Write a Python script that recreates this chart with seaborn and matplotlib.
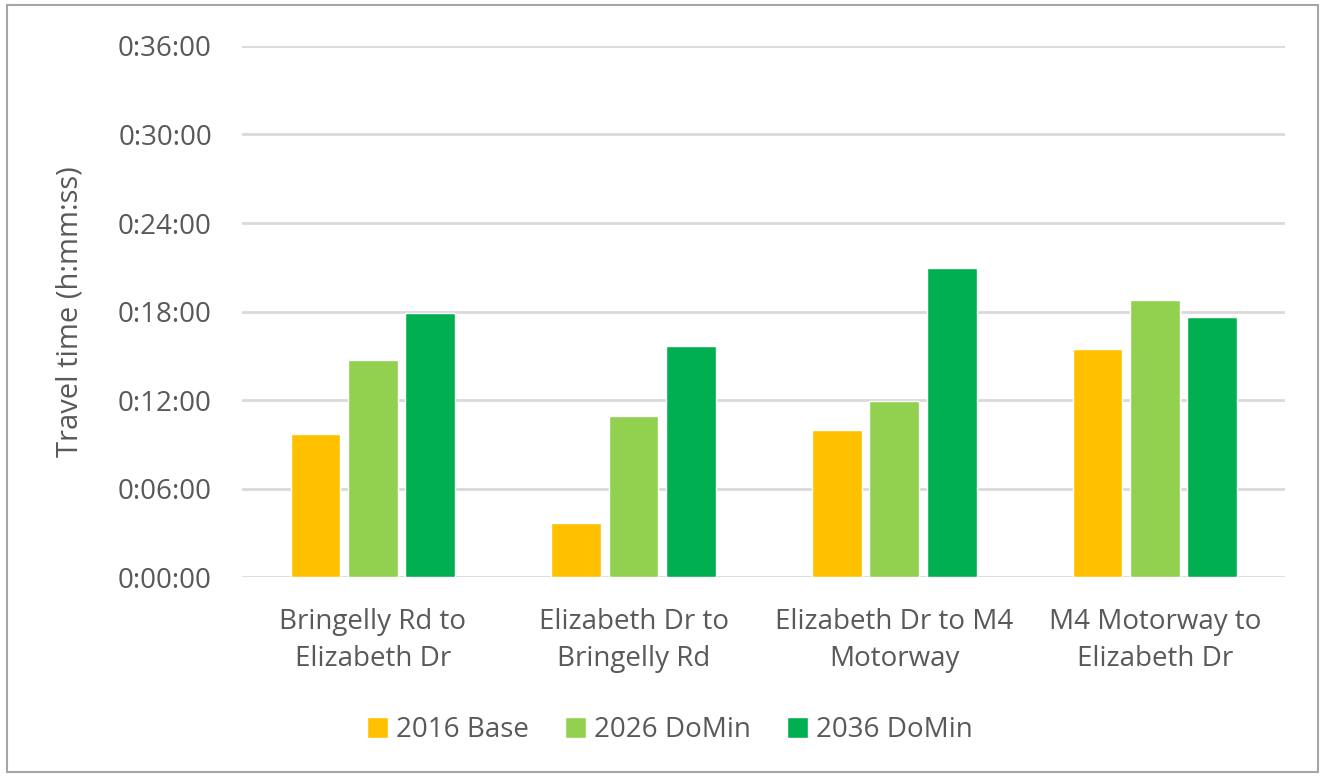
import pandas as pd
import matplotlib.pyplot as plt
import matplotlib.patches as patches
from matplotlib.ticker import FuncFormatter, MultipleLocator
import seaborn as sns

# travel times in minutes
routes = ["Bringelly Rd to\nElizabeth Dr", "Elizabeth Dr to\nBringelly Rd",
          "Elizabeth Dr to M4\nMotorway", "M4 Motorway to\nElizabeth Dr"]
scenarios = ["2016 Base", "2026 DoMin", "2036 DoMin"]
base_2016 = [9.72, 3.67, 9.99, 15.47]
domin_2026 = [14.73, 10.90, 11.93, 18.81]
domin_2036 = [17.88, 15.68, 20.93, 17.66]
colors = ["#FFC000", "#92D050", "#00B050"]

TEXT = "#595959"
FS = 20


def hms(v, pos=None):
    total = int(round(v * 60))
    h, rest = divmod(total, 3600)
    m, s = divmod(rest, 60)
    return f"{h}:{m:02d}:{s:02d}"


df = pd.DataFrame({
    "route": routes * 3,
    "scenario": [s for s in scenarios for _ in routes],
    "minutes": base_2016 + domin_2026 + domin_2036,
})

sns.set_style("white")
plt.rcParams['font.family'] = ['Open Sans', 'DejaVu Sans']

fig = plt.figure(figsize=(13.25, 7.78), dpi=100)
ax = fig.add_axes([0.183, 0.258, 0.787, 0.683])

sns.barplot(data=df, x="route", y="minutes", hue="scenario", palette=colors,
            width=0.66, gap=0.13, ax=ax, legend=True, saturation=1)

ax.set_ylim(0, 36)
ax.yaxis.set_major_locator(MultipleLocator(6))
ax.yaxis.set_major_formatter(FuncFormatter(hms))
ax.grid(axis="y", color="#d9d9d9", linewidth=2)
ax.set_axisbelow(True)
for sp in ax.spines.values():
    sp.set_visible(False)
ax.tick_params(axis="both", length=0, labelsize=FS, colors=TEXT)
ax.tick_params(axis="y", pad=22)
ax.tick_params(axis="x", pad=22)
for lab in ax.get_xticklabels():
    lab.set_linespacing(1.45)
ax.set_xlabel("")
ax.set_ylabel("Travel time (h:mm:ss)", fontsize=FS + 1, color=TEXT, labelpad=24)
ax.set_xlim(-0.5, 3.5)

handles, labels = ax.get_legend_handles_labels()
ax.legend(handles, labels, loc="center", bbox_to_anchor=(0.41, -0.288), ncol=3,
          frameon=False, fontsize=FS, labelcolor=TEXT, handlelength=0.75,
          handleheight=0.75, handletextpad=0.3, columnspacing=1.3)

fig.patches.append(patches.Rectangle((0.005, 0.008), 0.99, 0.985, transform=fig.transFigure,
                                     fill=False, edgecolor="#a6a6a6", linewidth=1.5))

fig.savefig("out.png", dpi=100, facecolor="white")
